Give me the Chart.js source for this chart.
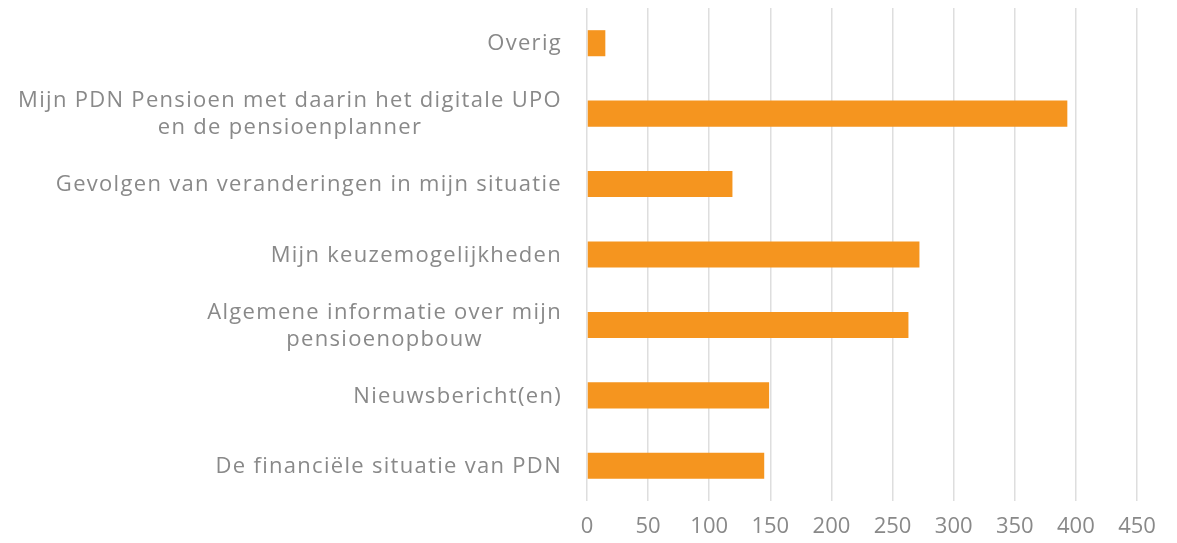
<!DOCTYPE html>
<html>
<head>
<meta charset="utf-8">
<script src="https://cdn.jsdelivr.net/npm/chart.js@4/dist/chart.umd.min.js"></script>
<style>
  html, body { margin: 0; padding: 0; background: #fff; }
  #wrap { width: 1177px; height: 543px; position: relative; }
</style>
</head>
<body>
<div id="wrap"><canvas id="chart"></canvas></div>
<script>
const categories = [
  'Overig',
  ['Mijn PDN Pensioen met daarin het digitale UPO', 'en de pensioenplanner'],
  'Gevolgen van veranderingen in mijn situatie',
  'Mijn keuzemogelijkheden',
  ['Algemene informatie over mijn', 'pensioenopbouw'],
  'Nieuwsbericht(en)',
  'De financiële situatie van PDN'
];
const counts = [15, 393, 119, 272, 263, 149, 145];
const xTicks = [0, 50, 100, 150, 200, 250, 300, 350, 400, 450];

const FONT = '"Open Sans", sans-serif';
const GREY = '#898989';

// draws the category labels: block right aligned, lines centred on each other
const labelPlugin = {
  id: 'catLabels',
  afterDraw(chart) {
    const ctx = chart.ctx;
    const y = chart.scales.y;
    const right = chart.chartArea.left - 25;
    ctx.save();
    ctx.font = '22px ' + FONT;
    ctx.letterSpacing = '1.3px';
    ctx.fillStyle = GREY;
    ctx.textAlign = 'center';
    ctx.textBaseline = 'middle';
    const lineH = 27;
    categories.forEach(function (lab, i) {
      const lines = Array.isArray(lab) ? lab : [lab];
      const w = Math.max.apply(null, lines.map(l => ctx.measureText(l).width));
      const cx = right - w / 2;
      const cy = y.getPixelForValue(i) + 1;
      lines.forEach(function (l, j) {
        ctx.fillText(l, cx, cy + (j - (lines.length - 1) / 2) * lineH);
      });
    });
    ctx.restore();
  }
};

new Chart(document.getElementById('chart'), {
  type: 'bar',
  data: {
    labels: categories,
    datasets: [{
      data: counts,
      backgroundColor: '#F5951F',
      barPercentage: 0.37,
      categoryPercentage: 1
    }]
  },
  options: {
    indexAxis: 'y',
    responsive: true,
    maintainAspectRatio: false,
    animation: false,
    layout: { padding: { top: 8, right: 40, bottom: 0, left: 0 } },
    scales: {
      x: {
        min: 0,
        max: 450,
        afterBuildTicks: s => { s.ticks = xTicks.map(v => ({ value: v })); },
        afterFit: s => { s.height = 42; },
        grid: { color: '#dedede', lineWidth: 1.5, drawTicks: false },
        border: { display: false },
        ticks: { color: GREY, padding: 13, font: { family: FONT, size: 22 } }
      },
      y: {
        afterFit: s => { s.width = 587; },
        grid: { display: false },
        border: { display: false },
        ticks: { display: false }
      }
    },
    plugins: {
      legend: { display: false },
      tooltip: { enabled: false }
    }
  },
  plugins: [labelPlugin]
});
</script>
</body>
</html>
